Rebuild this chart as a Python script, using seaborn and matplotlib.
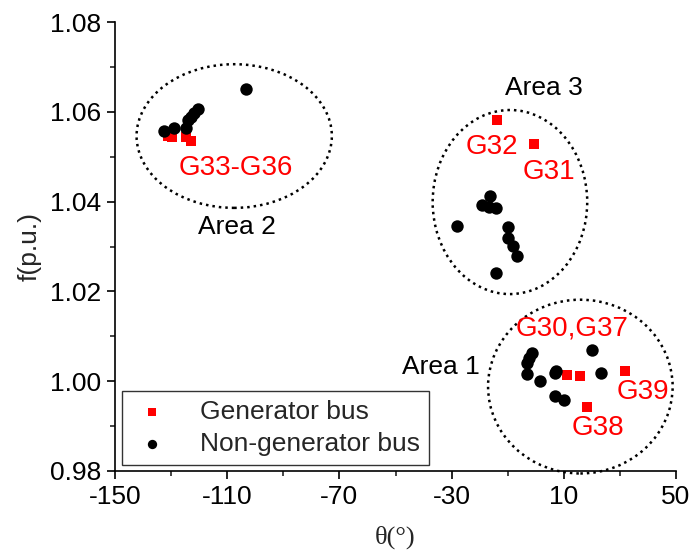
import matplotlib
matplotlib.use("Agg")
import matplotlib.pyplot as plt
from matplotlib.patches import Ellipse
import seaborn as sns
import pandas as pd

sns.set_theme(style="ticks")
plt.rcParams["font.family"] = ["Liberation Sans", "DejaVu Sans"]
plt.rcParams["axes.unicode_minus"] = False

# Phase angle (deg) and frequency (p.u.) of generator buses
gen_theta = [-131.0, -129.8, -124.6, -123.0,
             -13.7, -0.7,
             11.1, 15.8, 31.7, 18.1]
gen_freq = [1.0547, 1.0543, 1.0544, 1.0535,
            1.0582, 1.0528,
            1.0014, 1.0012, 1.0023, 0.9942]

# Phase angle (deg) and frequency (p.u.) of non-generator buses
load_theta = [-103.4, -120.5, -121.7, -122.9, -124.1, -124.6, -128.8, -132.5,
              -16.3, -19.0, -16.7, -14.0, -27.9, -9.8, -9.8, -8.05, -6.6, -14.1,
              -1.3, -2.5, -3.1, -3.1, 1.4, 7.3, 6.7, 6.9, 10.2, 19.9, 23.1]
load_freq = [1.0650, 1.0606, 1.0598, 1.0589, 1.0581, 1.0563, 1.0565, 1.0557,
             1.0412, 1.0392, 1.0387, 1.0386, 1.0346, 1.0343, 1.0318, 1.0301, 1.0278, 1.0240,
             1.0063, 1.0051, 1.0040, 1.0015, 1.0000, 1.0023, 1.0018, 0.9967, 0.9958, 1.0070, 1.0018]

# Coherent areas: centre (theta, f), width, height, label position
area_names = ["Area 1", "Area 2", "Area 3"]
area_centers = [(15.9, 0.9988), (-107.5, 1.0546), (-9.2, 1.0399)]
area_sizes = [(65.8, 0.0387), (69.6, 0.0320), (55.1, 0.0410)]
area_label_pos = [(-33.8, 1.0031), (-106.5, 1.0343), (2.9, 1.0653)]

# Generator labels
gen_labels = ["G33-G36", "G32", "G31", "G30,G37", "G39", "G38"]
gen_label_pos = [(-106.9, 1.0474), (-15.5, 1.0522), (4.6, 1.0467),
                 (12.8, 1.0118), (38.2, 0.9977), (22.3, 0.9895)]

x_ticks = [-150, -110, -70, -30, 10, 50]
y_ticks = [0.98, 1.00, 1.02, 1.04, 1.06, 1.08]

gen_df = pd.DataFrame({"theta": gen_theta, "f": gen_freq})
load_df = pd.DataFrame({"theta": load_theta, "f": load_freq})

fig = plt.figure(figsize=(6.9, 5.53), dpi=100)
ax = fig.add_axes([115 / 690, 1 - 471 / 553, 561 / 690, 449 / 553])

sns.scatterplot(data=gen_df, x="theta", y="f", ax=ax, color="#ff0000", marker="s",
                s=55, linewidth=0, label="Generator bus", zorder=3)
sns.scatterplot(data=load_df, x="theta", y="f", ax=ax, color="black", marker="o",
                s=80, linewidth=0, label="Non-generator bus", zorder=4)

for (cx, cy), (w, h) in zip(area_centers, area_sizes):
    ax.add_patch(Ellipse((cx, cy), w, h, fill=False, edgecolor="black",
                         linewidth=1.8, linestyle=(0, (1, 1.6)), clip_on=False, zorder=2))

for name, (tx, ty) in zip(area_names, area_label_pos):
    ax.text(tx, ty, name, ha="center", va="center", fontsize=19, color="black")

for name, (tx, ty) in zip(gen_labels, gen_label_pos):
    ax.text(tx, ty, name, ha="center", va="center", fontsize=20, color="#ff0000")

ax.set_xlim(-150, 50)
ax.set_ylim(0.98, 1.08)
ax.set_xticks(x_ticks)
ax.set_yticks(y_ticks)
ax.set_xticks([-130, -90, -50, -10, 30], minor=True)
ax.set_yticks([0.99, 1.01, 1.03, 1.05, 1.07], minor=True)
ax.set_xticklabels([str(v) for v in x_ticks])
ax.set_yticklabels([f"{v:.2f}" for v in y_ticks])
ax.tick_params(axis="both", which="major", direction="out", length=6, width=1.2,
               labelsize=19, colors="black", pad=4)
ax.tick_params(axis="both", which="minor", direction="out", length=3.5, width=1.2)

for side in ["top", "right"]:
    ax.spines[side].set_visible(False)
for side in ["left", "bottom"]:
    ax.spines[side].set_linewidth(1.2)
    ax.spines[side].set_color("black")

ax.set_xlabel("θ(°)", fontsize=19, family=["Liberation Serif", "DejaVu Serif"], labelpad=12)
ax.set_ylabel("f(p.u.)", fontsize=19, labelpad=6)

handles, labels = ax.get_legend_handles_labels()
order = [labels.index("Generator bus"), labels.index("Non-generator bus")]
leg = ax.legend([handles[i] for i in order], [labels[i] for i in order],
                loc="lower left", bbox_to_anchor=(0.012, 0.013), borderaxespad=0,
                frameon=True, fancybox=False, fontsize=19, markerscale=0.75,
                handletextpad=1.0, borderpad=0.35, labelspacing=0.3,
                handlelength=1.6)
leg.get_frame().set_edgecolor("black")
leg.get_frame().set_linewidth(1.0)

fig.savefig("out.png", dpi=100)
